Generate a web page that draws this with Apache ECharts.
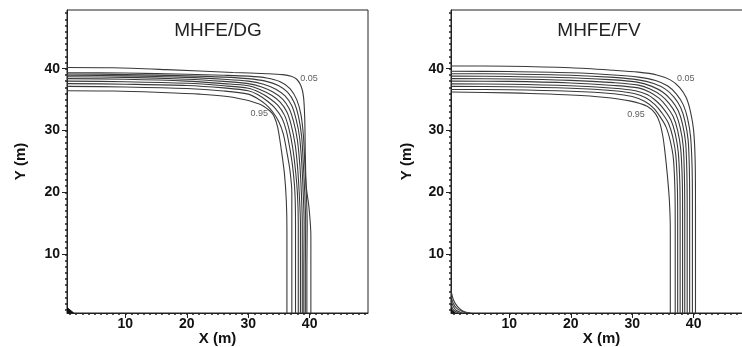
<!DOCTYPE html>
<html><head><meta charset="utf-8">
<script src="https://cdn.jsdelivr.net/npm/echarts@6/dist/echarts.min.js"></script>
<style>html,body{margin:0;padding:0;background:#fff}#c{width:742px;height:347px}</style>
</head><body><div id="c"></div>
<script>
// ---- data (x, y in metres) ----
var panelTitles = ['MHFE/DG', 'MHFE/FV'];
var contourLevels = ['0.05','0.15','0.25','0.35','0.45','0.55','0.65','0.75','0.85','0.95'];
var majorTicks = [10, 20, 30, 40];
var axisMin = 0.5, axisMax = 49.5;

// MHFE/DG contours (outer 0.05 -> inner 0.95)
var dg005 = [[0.5,40.2],[8,40.15],[16.7,39.85],[27.5,39.4],[33,39.2],[35.6,39.05],[37.0,38.8],[37.9,38.3],[38.6,37.2],[39.0,35.5],[39.2,32],[39.3,26],[39.45,21],[39.9,17.5],[40.2,13],[40.2,6],[40.2,0.5]];
var dg015 = [[0.5,39.35],[10,39.3],[20,39.1],[26,38.95],[30,38.8],[33,38.5],[35.2,37.9],[36.8,36.8],[37.9,35.0],[38.6,32.5],[39.0,29],[39.2,25],[39.45,20],[39.6,15],[39.55,8],[39.55,0.5]];
var dg025 = [[0.5,39.15],[10,39.05],[20,38.85],[26,38.65],[30,38.4],[32.8,38.0],[34.9,37.3],[36.4,36.2],[37.5,34.5],[38.2,32.2],[38.7,29],[38.95,25],[39.2,20],[39.35,15],[39.3,8],[39.3,0.5]];
var dg035 = [[0.5,38.95],[10,38.85],[20,38.6],[26,38.3],[30,38.0],[32.5,37.5],[34.5,36.7],[36.0,35.6],[37.1,34.0],[37.8,31.8],[38.35,29],[38.7,25],[38.95,20],[39.1,15],[39.05,8],[39.05,0.5]];
var dg045 = [[0.5,38.7],[10,38.6],[20,38.3],[26,37.95],[30,37.6],[32.2,37.05],[34.1,36.2],[35.6,35.1],[36.7,33.5],[37.4,31.4],[38.0,28.5],[38.4,24.5],[38.65,20],[38.8,15],[38.8,8],[38.8,0.5]];
var dg055 = [[0.5,38.4],[10,38.3],[20,38.0],[26,37.6],[30,37.25],[32,36.6],[33.8,35.7],[35.2,34.6],[36.3,33.0],[37.0,30.9],[37.6,28],[38.0,24.5],[38.3,20],[38.5,15],[38.5,8],[38.5,0.5]];
var dg065 = [[0.5,38.0],[10,37.9],[20,37.65],[26,37.25],[30,36.85],[31.8,36.2],[33.5,35.2],[34.8,34.1],[35.9,32.5],[36.6,30.4],[37.2,27.5],[37.65,24],[38.0,20],[38.15,15],[38.15,8],[38.15,0.5]];
var dg075 = [[0.5,37.6],[10,37.5],[20,37.3],[26,36.9],[30,36.45],[31.6,35.8],[33.2,34.7],[34.4,33.6],[35.5,32.0],[36.2,30.0],[36.8,27],[37.25,24],[37.6,20],[37.7,15],[37.7,8],[37.7,0.5]];
var dg085 = [[0.5,37.15],[10,37.05],[20,36.8],[26,36.4],[30,35.9],[31.5,35.2],[32.9,34.2],[34.0,33.0],[35.0,31.4],[35.7,29.5],[36.3,26.5],[36.8,23.5],[37.1,20],[37.1,15],[37.1,8],[37.1,0.5]];
var dg095 = [[0.5,36.45],[8,36.4],[15,36.2],[22.1,35.9],[27.5,35.4],[31.8,34.3],[33.5,33.2],[34.2,32.3],[34.8,30.5],[35.4,26.8],[35.9,23.0],[36.2,18.7],[36.3,14],[36.3,0.5]];
var dgCorner = [[0.5,1.4],[1.6,0.5]];

// MHFE/FV contours (outer 0.05 -> inner 0.95)
var fv005 = [[0.5,40.45],[10,40.4],[20,40.15],[27,39.75],[31,39.45],[34,39.0],[36.2,38.2],[37.7,37.0],[38.8,35.3],[39.5,33.0],[40.0,30.0],[40.25,25],[40.3,18],[40.3,8],[40.3,0.5]];
var fv015 = [[0.5,39.6],[10,39.55],[20,39.35],[27,39.0],[31,38.65],[33.8,38.1],[35.8,37.2],[37.2,35.9],[38.3,34.2],[39.0,32.0],[39.5,29.0],[39.75,24],[39.8,18],[39.8,8],[39.8,0.5]];
var fv025 = [[0.5,39.2],[10,39.15],[20,38.95],[27,38.6],[31,38.2],[33.5,37.6],[35.4,36.7],[36.8,35.4],[37.9,33.7],[38.6,31.5],[39.1,28.5],[39.3,24],[39.35,18],[39.35,8],[39.35,0.5]];
var fv035 = [[0.5,38.8],[10,38.75],[20,38.55],[27,38.2],[31,37.8],[33.2,37.15],[35.0,36.2],[36.4,34.9],[37.5,33.2],[38.2,31.0],[38.7,28],[38.9,23],[38.95,17],[38.95,8],[38.95,0.5]];
var fv045 = [[0.5,38.4],[10,38.35],[20,38.12],[27,37.75],[31,37.35],[33.0,36.7],[34.7,35.7],[36.0,34.4],[37.1,32.7],[37.8,30.5],[38.3,27.5],[38.5,22.5],[38.55,17],[38.55,8],[38.55,0.5]];
var fv055 = [[0.5,38.0],[10,37.95],[20,37.7],[27,37.3],[31,36.9],[32.8,36.25],[34.4,35.2],[35.6,33.9],[36.7,32.2],[37.4,30.0],[37.9,27],[38.15,22],[38.2,17],[38.2,8],[38.2,0.5]];
var fv065 = [[0.5,37.55],[10,37.5],[20,37.25],[27,36.85],[30.5,36.45],[32.5,35.8],[34.0,34.7],[35.2,33.4],[36.3,31.7],[37.0,29.5],[37.5,26.5],[37.75,21.5],[37.8,16],[37.8,8],[37.8,0.5]];
var fv075 = [[0.5,37.15],[10,37.1],[20,36.85],[27,36.45],[30.3,36.0],[32.2,35.3],[33.7,34.2],[34.8,32.9],[35.9,31.2],[36.6,29.0],[37.1,26],[37.35,21],[37.4,16],[37.4,8],[37.4,0.5]];
var fv085 = [[0.5,36.65],[10,36.6],[20,36.35],[27,35.95],[30,35.5],[32,34.75],[33.4,33.7],[34.5,32.3],[35.5,30.6],[36.2,28.3],[36.7,25.5],[36.95,20.5],[37.0,15],[37.0,8],[37.0,0.5]];
var fv095 = [[0.5,36.25],[10,36.1],[13.4,36.0],[20,35.75],[25.3,35.4],[29.6,34.8],[32.5,33.9],[33.8,32.7],[34.5,31.2],[35.0,29],[35.3,26.8],[35.7,23.0],[36.05,18.7],[36.2,14],[36.2,8],[36.2,0.5]];
// small contours near the origin (FV)
var fvArc1 = [[0.5,4.2],[0.9,2.6],[1.6,1.5],[2.5,0.8],[3.7,0.5]];
var fvArc2 = [[0.5,3.2],[0.9,2.0],[1.5,1.2],[2.9,0.5]];
var fvArc3 = [[0.5,2.5],[0.9,1.5],[1.4,0.9],[2.3,0.5]];
var fvArc4 = [[0.5,1.8],[0.9,1.0],[1.7,0.5]];
var fvCorner = [[0.5,1.2],[1.2,0.5]];

// contour label positions
var dgLabels = [{v:'0.05', p:[39.9,38.5]}, {v:'0.95', p:[31.8,32.7]}];
var fvLabels = [{v:'0.05', p:[38.7,38.5]}, {v:'0.95', p:[30.6,32.6]}];

var dgContours = [dg005,dg015,dg025,dg035,dg045,dg055,dg065,dg075,dg085,dg095];
var fvContours = [fv005,fv015,fv025,fv035,fv045,fv055,fv065,fv075,fv085,fv095];

// ---- chart ----
var minorTicks = [];
for (var t = 1; t <= 49; t++) minorTicks.push(t);
var FONT = 'Liberation Sans, Arial, sans-serif';
var grids = [
  {left: 67, top: 10, width: 301, height: 303},
  {left: 451, top: 10, width: 301, height: 303}
];
var xAxes = [], yAxes = [], series = [];
grids.forEach(function (g, i) {
  g.show = true; g.borderColor = '#222'; g.borderWidth = 1; g.backgroundColor = '#fff';
  g.outerBoundsMode = 'none'; g.containLabel = false;
  xAxes.push({
    gridIndex: i, type: 'value', min: axisMin, max: axisMax, position: 'bottom',
    name: 'X (m)', nameLocation: 'middle', nameGap: 18, nameMoveOverlap: false,
    nameTextStyle: {fontFamily: FONT, fontSize: 15, fontWeight: 'bold', color: '#111'},
    axisLine: {show: true, onZero: false, lineStyle: {color: '#222', width: 1}},
    axisTick: {show: true, inside: false, length: 2, customValues: minorTicks, lineStyle: {color: '#222', width: 1.5}},
    axisLabel: {customValues: majorTicks, fontFamily: FONT, fontSize: 14, fontWeight: 'bold', color: '#111', margin: 4},
    splitLine: {show: false}
  });
  xAxes.push({
    gridIndex: i, type: 'value', min: axisMin, max: axisMax, position: 'bottom',
    axisLine: {show: false},
    axisTick: {show: true, inside: false, length: 5, customValues: majorTicks, lineStyle: {color: '#222', width: 1}},
    axisLabel: {show: false}, splitLine: {show: false}
  });
  yAxes.push({
    gridIndex: i, type: 'value', min: axisMin, max: axisMax, position: 'left',
    name: 'Y (m)', nameLocation: 'middle', nameGap: i === 0 ? 39 : 37, nameMoveOverlap: false,
    nameTextStyle: {fontFamily: FONT, fontSize: 15, fontWeight: 'bold', color: '#111'},
    axisLine: {show: true, onZero: false, lineStyle: {color: '#222', width: 1}},
    axisTick: {show: true, inside: false, length: 2, customValues: minorTicks, lineStyle: {color: '#222', width: 1.5}},
    axisLabel: {customValues: majorTicks, fontFamily: FONT, fontSize: 14, fontWeight: 'bold', color: '#111', margin: 7},
    splitLine: {show: false}
  });
  yAxes.push({
    gridIndex: i, type: 'value', min: axisMin, max: axisMax, position: 'left',
    axisLine: {show: false},
    axisTick: {show: true, inside: false, length: 5, customValues: majorTicks, lineStyle: {color: '#222', width: 1}},
    axisLabel: {show: false}, splitLine: {show: false}
  });
});

function addLine(data, panel, extra) {
  var s = {
    type: 'line', xAxisIndex: panel * 2, yAxisIndex: panel * 2, data: data,
    showSymbol: false, symbol: 'none', smooth: 0.3, silent: true, clip: true,
    lineStyle: {color: '#3a3a3a', width: 1.1}
  };
  if (extra) for (var k in extra) s[k] = extra[k];
  series.push(s);
}
dgContours.forEach(function (c) { addLine(c, 0); });
fvContours.forEach(function (c) { addLine(c, 1); });
[fvArc1, fvArc2, fvArc3, fvArc4].forEach(function (c) { addLine(c, 1); });
addLine(dgCorner, 0, {smooth: false, areaStyle: {color: '#111', opacity: 1, origin: 'start'}, lineStyle: {color: '#111', width: 1}});
addLine(fvCorner, 1, {smooth: false, areaStyle: {color: '#111', opacity: 1, origin: 'start'}, lineStyle: {color: '#111', width: 1}});

[dgLabels, fvLabels].forEach(function (labs, panel) {
  series.push({
    type: 'scatter', xAxisIndex: panel * 2, yAxisIndex: panel * 2, symbolSize: 0, silent: true,
    data: labs.map(function (l) { return {value: l.p, name: l.v}; }),
    label: {show: true, position: 'inside', formatter: '{b}', fontFamily: FONT, fontSize: 9, color: '#333'}
  });
});

var chart = echarts.init(document.getElementById('c'), null, {renderer: 'canvas'});
chart.setOption({
  animation: false,
  backgroundColor: '#fff',
  grid: grids, xAxis: xAxes, yAxis: yAxes, series: series,
  graphic: [
    {type: 'text', x: 218, y: 31, z: 100, style: {text: panelTitles[0], textAlign: 'center', textVerticalAlign: 'middle', font: '19px ' + FONT, fill: '#222'}},
    {type: 'text', x: 599, y: 31, z: 100, style: {text: panelTitles[1], textAlign: 'center', textVerticalAlign: 'middle', font: '19px ' + FONT, fill: '#222'}}
  ]
});
</script></body></html>
